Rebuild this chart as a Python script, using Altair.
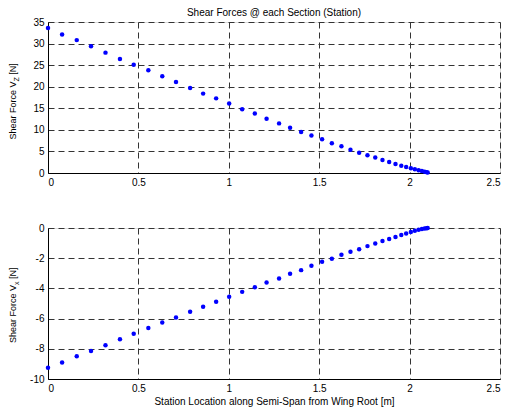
import altair as alt
import pandas as pd

# Data
station = [0.000, 0.078, 0.159, 0.238, 0.318, 0.398, 0.474, 0.555, 0.632, 0.708,
           0.786, 0.858, 0.930, 1.002, 1.074, 1.144, 1.209, 1.278, 1.339, 1.400,
           1.457, 1.516, 1.570, 1.623, 1.673, 1.721, 1.767, 1.810, 1.850, 1.887,
           1.922, 1.954, 1.981, 2.007, 2.029, 2.050, 2.068, 2.083, 2.094, 2.100]
vz = [33.6, 32.1, 30.8, 29.4, 27.9, 26.4, 25.1, 23.8, 22.4, 21.1,
      19.7, 18.4, 17.3, 16.1, 14.8, 13.8, 12.6, 11.5, 10.5, 9.5,
      8.7, 7.8, 6.9, 6.2, 5.4, 4.7, 4.1, 3.6, 3.0, 2.55,
      2.09, 1.7, 1.39, 1.08, 0.85, 0.62, 0.46, 0.31, 0.2, 0.1]
vx = [-9.25, -8.9, -8.5, -8.14, -7.77, -7.37, -7.01, -6.62, -6.26, -5.93,
      -5.55, -5.22, -4.89, -4.56, -4.23, -3.92, -3.61, -3.34, -3.03, -2.79,
      -2.50, -2.24, -2.04, -1.77, -1.57, -1.40, -1.20, -1.02, -0.86, -0.73,
      -0.60, -0.46, -0.36, -0.27, -0.18, -0.11, -0.07, -0.04, -0.02, 0.0]

x_ticks = [0, 0.5, 1, 1.5, 2, 2.5]
vz_ticks = [0, 5, 10, 15, 20, 25, 30, 35]
vx_ticks = [-10, -8, -6, -4, -2, 0]

title_text = "Shear Forces @ each Section (Station)"
xlabel_text = "Station Location along Semi-Span from Wing Root [m]"
ylabel_main = "Shear Force V"
ylabel_top_sub = "Z"
ylabel_bot_sub = "x"
ylabel_unit = "[N]"

df = pd.DataFrame({"station": station, "vz": vz, "vx": vx})

W, H = 452, 151
FONT = "Liberation Sans"
BLUE = "#0000ff"

grid_kw = dict(grid=True, gridDash=[6, 4], gridColor="#333333", gridWidth=1,
               ticks=False, domainColor="black", labelColor="black",
               labelFont=FONT, labelFontSize=10, labelPadding=4,
               labelExpr="toString(datum.value)")


def ylabel_layer(sub, y0, sub_w):
    main_w = 58.0
    items = [
        alt.Chart(pd.DataFrame({"t": [ylabel_main]})).mark_text(
            angle=270, align="left", baseline="alphabetic", font=FONT,
            fontSize=9, color="black").encode(
            text="t:N", x=alt.value(-32), y=alt.value(y0)),
        alt.Chart(pd.DataFrame({"t": [sub]})).mark_text(
            angle=270, align="left", baseline="alphabetic", font=FONT,
            fontSize=7, color="black").encode(
            text="t:N", x=alt.value(-29.5), y=alt.value(y0 - main_w)),
        alt.Chart(pd.DataFrame({"t": [ylabel_unit]})).mark_text(
            angle=270, align="left", baseline="alphabetic", font=FONT,
            fontSize=9, color="black").encode(
            text="t:N", x=alt.value(-32), y=alt.value(y0 - main_w - sub_w - 2.5)),
    ]
    return items


top_pts = alt.Chart(df).mark_circle(size=20, color=BLUE, opacity=1).encode(
    x=alt.X("station:Q", scale=alt.Scale(domain=[0, 2.5], nice=False),
            axis=alt.Axis(values=x_ticks, title=None, **grid_kw)),
    y=alt.Y("vz:Q", scale=alt.Scale(domain=[0, 35], nice=False),
            axis=alt.Axis(values=vz_ticks, title=None, **grid_kw)),
)
top_title = alt.Chart(pd.DataFrame({"t": [title_text]})).mark_text(
    align="center", baseline="middle", font=FONT, fontSize=10, color="black"
).encode(text="t:N", x=alt.value(W / 2), y=alt.value(-9.5))

top = alt.layer(top_pts, top_title, *ylabel_layer(ylabel_top_sub, 117.5, 4.3)).properties(
    width=W, height=H)

bot_pts = alt.Chart(df).mark_circle(size=20, color=BLUE, opacity=1).encode(
    x=alt.X("station:Q", scale=alt.Scale(domain=[0, 2.5], nice=False),
            axis=alt.Axis(values=x_ticks, title=xlabel_text, titleFont=FONT,
                          titleFontSize=10, titleFontWeight="normal",
                          titleColor="black", titlePadding=3, **grid_kw)),
    y=alt.Y("vx:Q", scale=alt.Scale(domain=[-10, 0], nice=False),
            axis=alt.Axis(values=vx_ticks, title=None, **grid_kw)),
)
bot = alt.layer(bot_pts, *ylabel_layer(ylabel_bot_sub, 115.0, 3.5)).properties(
    width=W, height=H)

chart = alt.vconcat(top, bot, spacing=55, bounds="flush").properties(
    padding={"left": 0, "top": -1, "right": 0, "bottom": 0}
).configure_view(stroke="black", strokeWidth=1).configure(background="white")

chart.save("out.html", embed_options={"renderer": "svg", "actions": False})
